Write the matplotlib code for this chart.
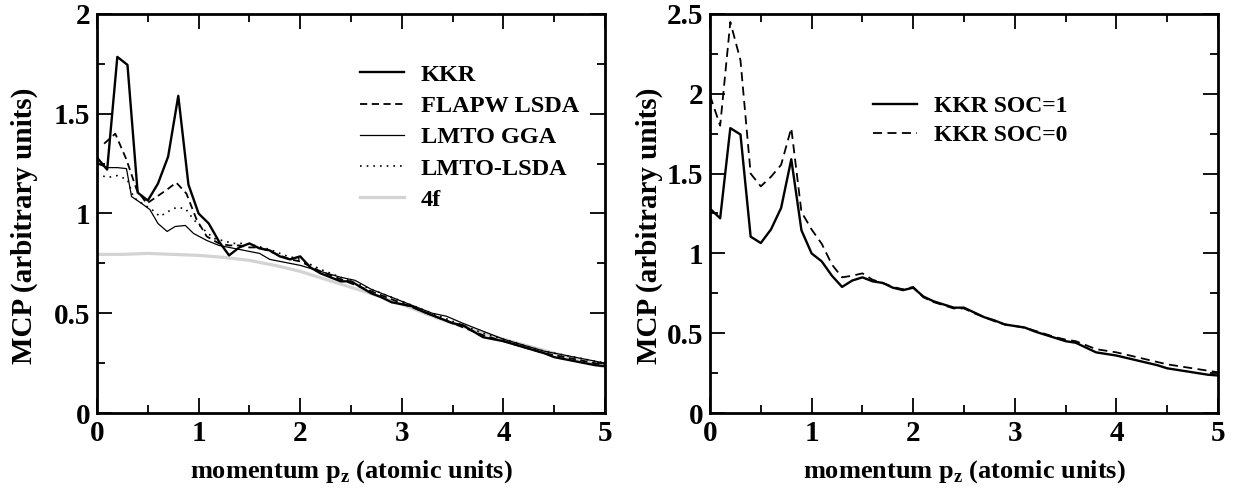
import numpy as np
import matplotlib
matplotlib.use('Agg')
import matplotlib.pyplot as plt
from matplotlib.ticker import MultipleLocator

plt.rcParams['font.family'] = 'Liberation Serif'
plt.rcParams['font.weight'] = 'bold'
plt.rcParams['mathtext.fontset'] = 'custom'
plt.rcParams['mathtext.bf'] = 'Liberation Serif:bold'
plt.rcParams['mathtext.rm'] = 'Liberation Serif:bold'

# momentum grid used by the KKR calculations
pz = [0.0, 0.1, 0.2, 0.3, 0.4, 0.5, 0.6, 0.7, 0.8, 0.9,
      1.0, 1.1, 1.2, 1.3, 1.4, 1.5, 1.6, 1.7, 1.8, 1.9,
      2.0, 2.1, 2.2, 2.3, 2.4, 2.5, 2.6, 2.7, 2.8, 2.9,
      3.0, 3.1, 3.2, 3.3, 3.4, 3.5, 3.6, 3.7, 3.8, 3.9,
      4.0, 4.1, 4.2, 4.3, 4.4, 4.5, 4.6, 4.7, 4.8, 4.9, 5.0]

kkr = [1.28, 1.22, 1.785, 1.745, 1.105, 1.065, 1.15, 1.285, 1.59, 1.145,
       1.00, 0.95, 0.86, 0.79, 0.83, 0.85, 0.825, 0.815, 0.785, 0.77,
       0.785, 0.73, 0.70, 0.68, 0.66, 0.66, 0.63, 0.60, 0.58, 0.555,
       0.545, 0.535, 0.51, 0.49, 0.47, 0.45, 0.44, 0.41, 0.38, 0.37,
       0.36, 0.345, 0.33, 0.315, 0.30, 0.28, 0.27, 0.26, 0.25, 0.24, 0.235]

kkr_soc0 = [1.99, 1.80, 2.45, 2.21, 1.50, 1.42, 1.48, 1.555, 1.785, 1.26,
            1.15, 1.06, 0.93, 0.85, 0.86, 0.875, 0.835, 0.815, 0.79, 0.775,
            0.79, 0.725, 0.695, 0.675, 0.655, 0.655, 0.625, 0.60, 0.575, 0.555,
            0.545, 0.535, 0.515, 0.495, 0.475, 0.46, 0.45, 0.425, 0.40, 0.39,
            0.38, 0.365, 0.35, 0.335, 0.32, 0.305, 0.295, 0.285, 0.275, 0.265, 0.255]

flapw_p = [0.07, 0.18, 0.29, 0.39, 0.49, 0.59, 0.69, 0.78, 0.88, 0.98, 1.08, 1.2,
           1.3, 1.4, 1.5, 1.6, 1.7, 1.8, 1.9, 2.0, 2.2, 2.4, 2.6, 2.8, 3.0, 3.2,
           3.4, 3.6, 3.8, 4.0, 4.2, 4.4, 4.6, 4.8, 5.0]
flapw = [1.35, 1.40, 1.27, 1.12, 1.05, 1.085, 1.12, 1.155, 1.10, 0.97, 0.885, 0.85,
         0.84, 0.84, 0.83, 0.83, 0.81, 0.79, 0.77, 0.76, 0.71, 0.67, 0.63, 0.59, 0.55, 0.51,
         0.47, 0.43, 0.39, 0.36, 0.33, 0.30, 0.28, 0.26, 0.24]

gga_p = [0.0, 0.1, 0.2, 0.29, 0.34, 0.44, 0.52, 0.6, 0.69, 0.77, 0.87, 0.95, 1.08,
         1.2, 1.3, 1.4, 1.5, 1.6, 1.7, 1.8, 1.9, 2.0, 2.2, 2.4, 2.54, 2.7, 2.9, 3.1,
         3.3, 3.44, 3.6, 3.8, 4.0, 4.2, 4.4, 4.6, 4.8, 5.0]
gga = [1.25, 1.23, 1.23, 1.225, 1.085, 1.05, 1.02, 0.95, 0.91, 0.935, 0.94, 0.90, 0.865,
       0.84, 0.83, 0.82, 0.81, 0.80, 0.77, 0.76, 0.75, 0.74, 0.71, 0.68, 0.665, 0.62, 0.58, 0.54,
       0.50, 0.485, 0.45, 0.41, 0.37, 0.34, 0.31, 0.29, 0.27, 0.25]

lsda_p = [0.0, 0.1, 0.2, 0.3, 0.36, 0.46, 0.54, 0.62, 0.7, 0.78, 0.87, 0.95, 1.05,
          1.15, 1.23, 1.34, 1.45, 1.55, 1.7, 1.85, 2.0, 2.2, 2.4, 2.6, 2.8, 3.0, 3.2,
          3.4, 3.6, 3.8, 4.0, 4.2, 4.4, 4.6, 4.8, 5.0]
lsda = [1.20, 1.18, 1.19, 1.17, 1.08, 1.045, 1.02, 0.985, 1.01, 1.03, 1.025, 0.97, 0.92,
        0.875, 0.865, 0.85, 0.85, 0.84, 0.82, 0.79, 0.77, 0.72, 0.68, 0.64, 0.60, 0.56, 0.52,
        0.48, 0.44, 0.40, 0.37, 0.34, 0.31, 0.29, 0.27, 0.25]

f4_p = [0.0, 0.25, 0.5, 0.75, 1.0, 1.25, 1.5, 1.75, 2.0, 2.25, 2.5, 2.75, 3.0,
        3.25, 3.5, 3.75, 4.0, 4.25, 4.5, 4.75, 5.0]
f4 = [0.795, 0.795, 0.80, 0.795, 0.79, 0.78, 0.765, 0.74, 0.71, 0.67, 0.63, 0.59, 0.545,
      0.495, 0.45, 0.41, 0.37, 0.335, 0.30, 0.265, 0.23]

fig = plt.figure(figsize=(12.33, 4.92), dpi=100)
ax1 = fig.add_axes([97/1233, 79/492, 508/1233, 399/492])
ax2 = fig.add_axes([710/1233, 79/492, 508/1233, 399/492])

ax1.plot(f4_p, f4, color='#d3d3d3', lw=2.3, label='4f', zorder=1)
ax1.plot(pz, kkr, color='black', lw=1.7, label='KKR', zorder=3)
ax1.plot(flapw_p, flapw, color='black', lw=1.3, ls=(0, (4, 2.5)), label='FLAPW LSDA', zorder=3)
ax1.plot(gga_p, gga, color='black', lw=0.9, label='LMTO GGA', zorder=3)
ax1.plot(lsda_p, lsda, color='black', lw=1.2, ls=(0, (1, 3)), label='LMTO-LSDA', zorder=3)

h, l = ax1.get_legend_handles_labels()
order = [1, 2, 3, 4, 0]
ax1.legend([h[i] for i in order], [l[i] for i in order], loc='upper left',
           bbox_to_anchor=(0.518, 0.875), frameon=False, fontsize=17.5,
           handlelength=1.8, handletextpad=0.7, labelspacing=0.38,
           borderpad=0, borderaxespad=0)

ax2.plot(pz, kkr, color='black', lw=1.7, label='KKR SOC=1')
ax2.plot(pz, kkr_soc0, color='black', lw=1.3, ls=(0, (5, 3)), label='KKR SOC=0')
ax2.legend(loc='upper left', bbox_to_anchor=(0.32, 0.795), frameon=False, fontsize=17,
           handlelength=1.9, handletextpad=0.7, labelspacing=0.3,
           borderpad=0, borderaxespad=0)

for ax, ytop in [(ax1, 2.0), (ax2, 2.5)]:
    ax.set_xlim(0, 5)
    ax.set_ylim(0, ytop)
    ax.xaxis.set_major_locator(MultipleLocator(1))
    ax.xaxis.set_minor_locator(MultipleLocator(0.5))
    ax.yaxis.set_major_locator(MultipleLocator(0.5))
    ax.yaxis.set_minor_locator(MultipleLocator(0.25))
    ax.tick_params(which='both', direction='in', top=True, right=True, width=1.3)
    ax.tick_params(which='major', length=11, labelsize=21, pad=5)
    ax.tick_params(which='minor', length=5.5)
    for s in ax.spines.values():
        s.set_linewidth(2)
    for t in ax.get_xticklabels() + ax.get_yticklabels():
        t.set_fontweight('bold')
    ax.set_xlabel(r'momentum p$_\mathbf{z}$ (atomic units)', fontsize=19,
                  fontweight='bold', labelpad=8)
    ax.set_ylabel('MCP (arbitrary units)', fontsize=21, fontweight='bold')

ax1.yaxis.set_label_coords(-0.116, 0.47)
ax2.yaxis.set_label_coords(-0.092, 0.47)

ax1.set_yticks([0, 0.5, 1, 1.5, 2])
ax1.set_yticklabels(['0', '0.5', '1', '1.5', '2'])
ax2.set_yticks([0, 0.5, 1, 1.5, 2, 2.5])
ax2.set_yticklabels(['0', '0.5', '1', '1.5', '2', '2.5'])

fig.savefig('out.png', dpi=100)
